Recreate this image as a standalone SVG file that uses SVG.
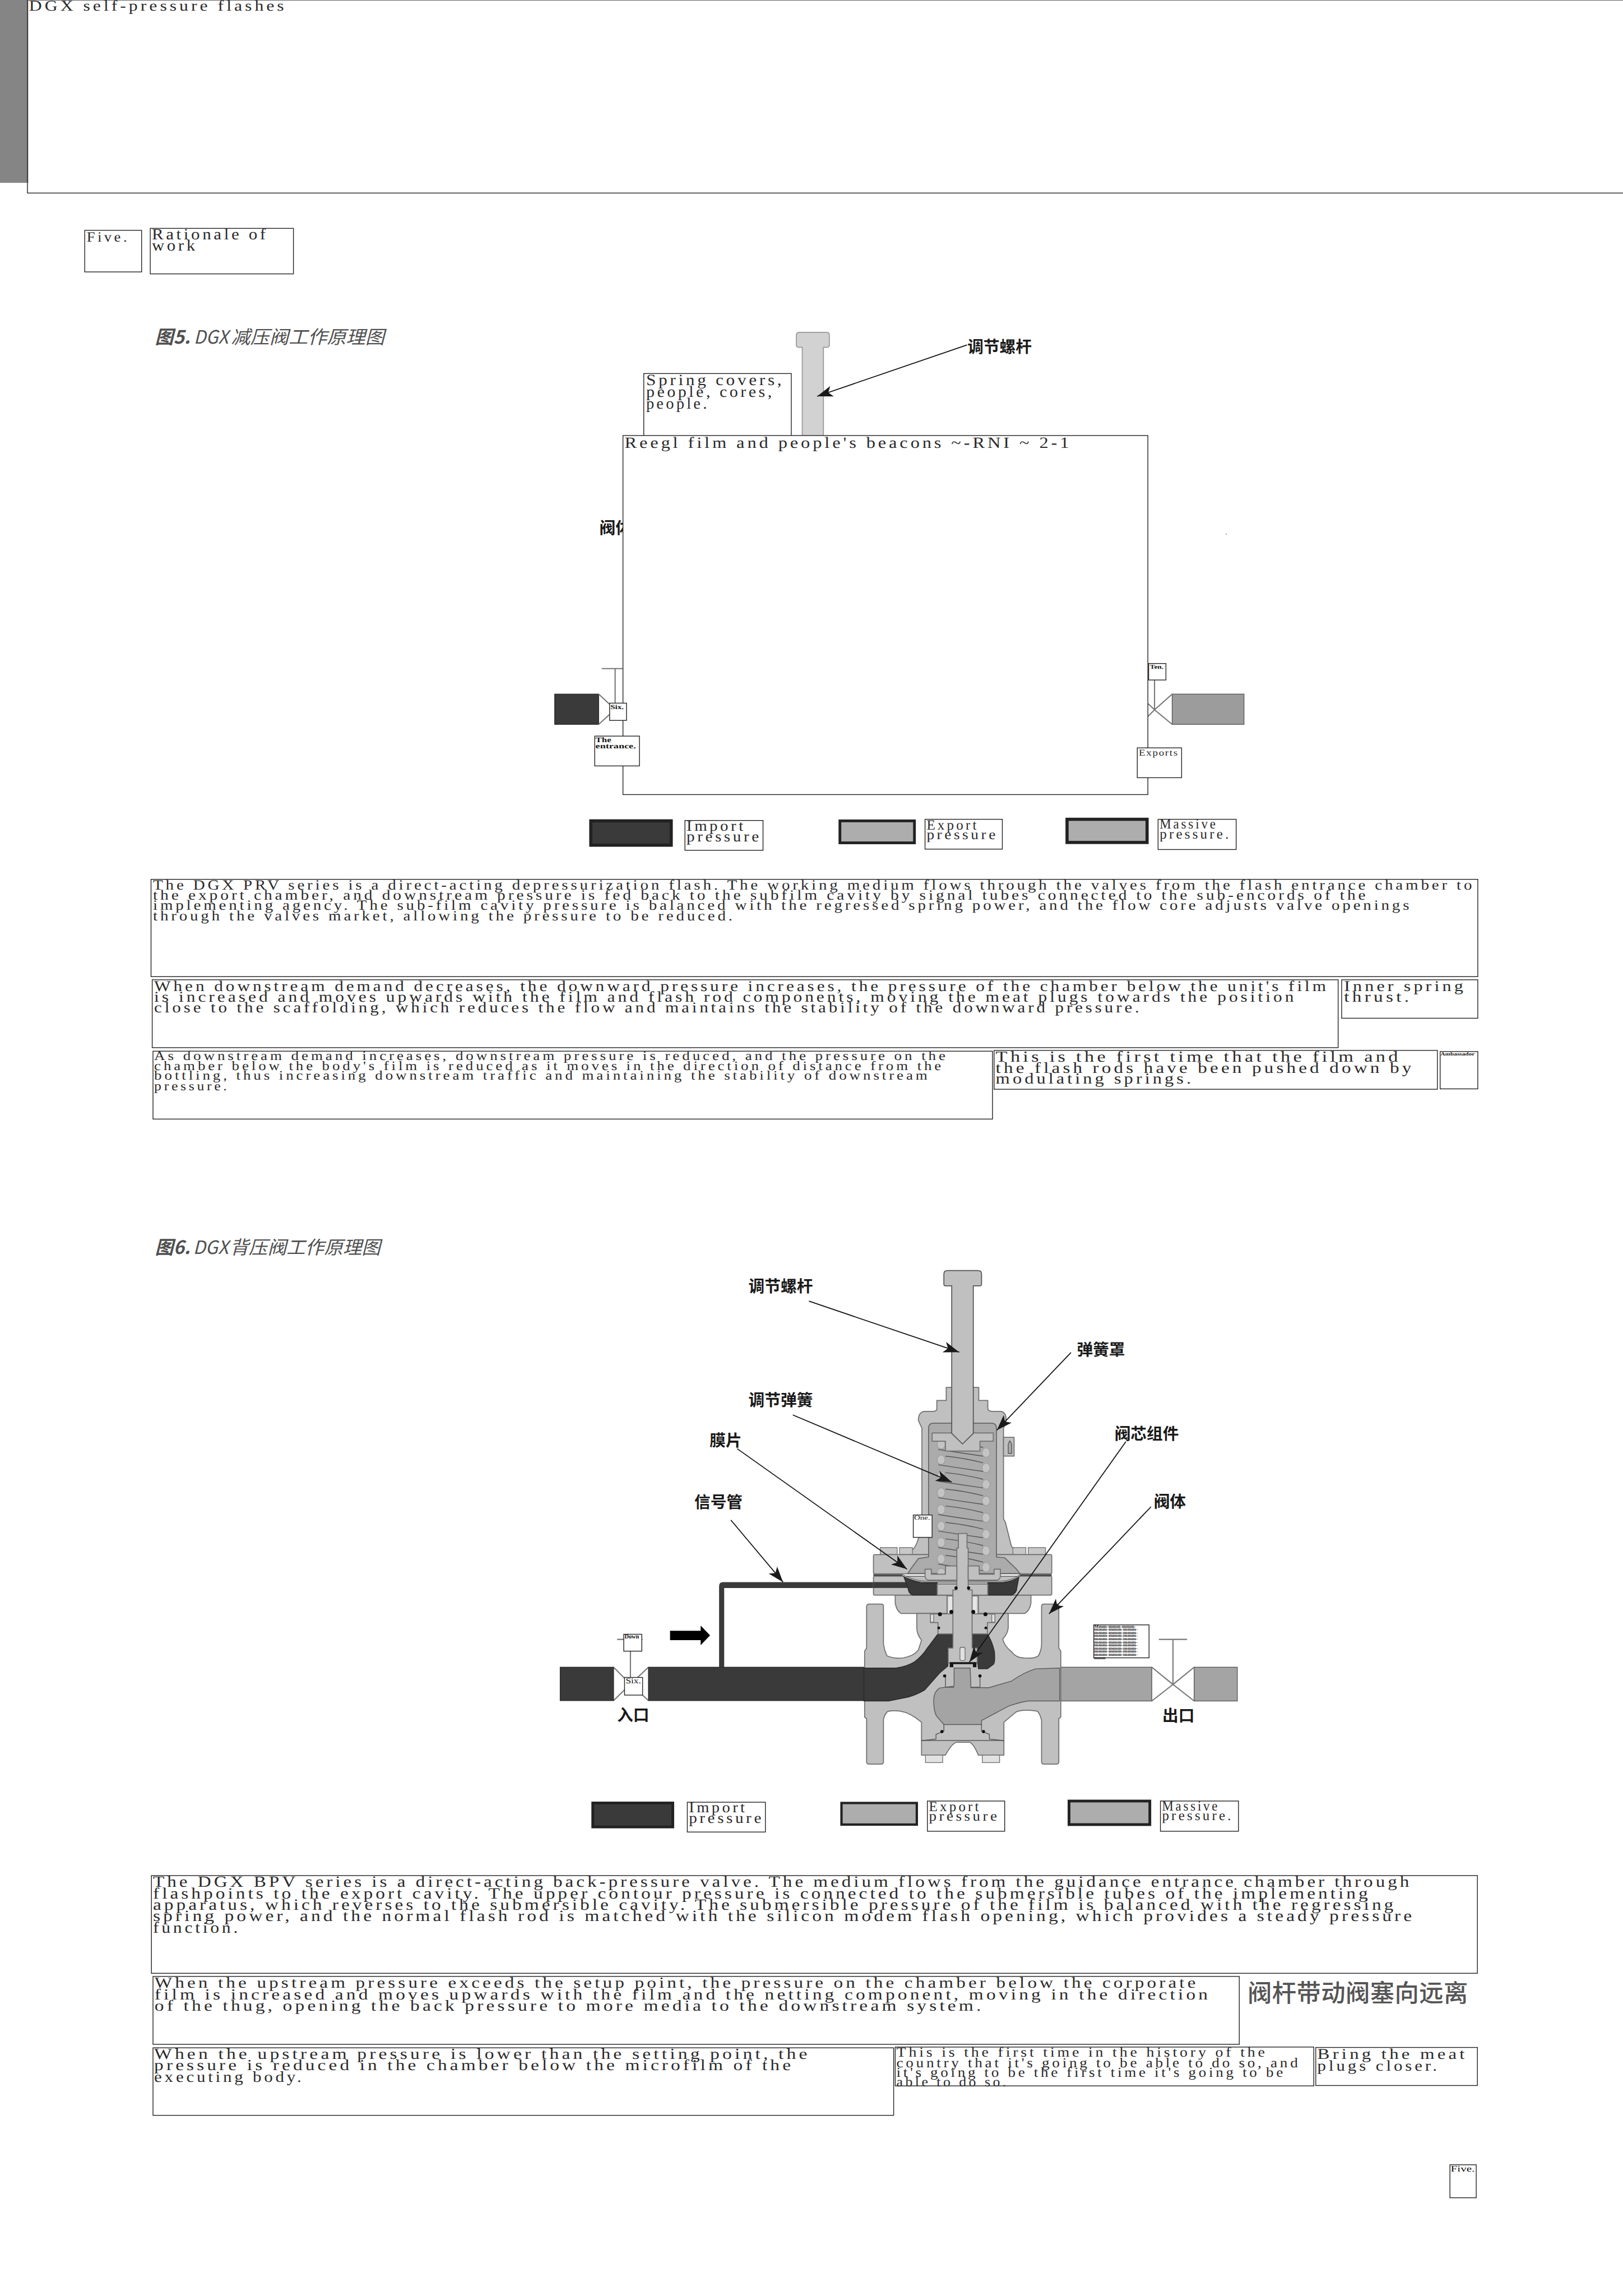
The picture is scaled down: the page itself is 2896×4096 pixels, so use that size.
<svg xmlns="http://www.w3.org/2000/svg" xmlns:xlink="http://www.w3.org/1999/xlink" width="2896" height="4096" viewBox="0 0 2896 4096">
<style>
.bx{fill:#fff;stroke:#222;stroke-width:2}
.t{font-family:"Liberation Serif","Noto Sans CJK SC",serif;fill:#2a2a2a;font-size:36px;letter-spacing:6px;text-rendering:geometricPrecision}
.tb{font-family:"Liberation Serif",serif;fill:#111;font-weight:700;text-rendering:geometricPrecision}
.lb{font-family:"Noto Sans CJK SC","Liberation Sans",sans-serif;font-weight:700;fill:#1a1a1a;font-size:41px}
.tt{font-family:"Noto Sans CJK SC","Open Sans",sans-serif;font-style:italic;fill:#505050;font-size:47px}
.lite{fill:#c0c0c0;stroke:#707070;stroke-width:2.5;stroke-linejoin:round}
.dark{fill:#3a3a3a;stroke:#2a2a2a;stroke-width:2}
.out{fill:#a4a4a4;stroke:#5a5a5a;stroke-width:2}
.cav{fill:#ababab;stroke:#666;stroke-width:2.5}
.bolt{fill:#e2e2e2;stroke:#777;stroke-width:2}
.pipe{stroke:#777;stroke-width:3;fill:none}
.coil{fill:none;stroke:#555;stroke-width:2}
.ball{fill:#c4c4c4;stroke:#999;stroke-width:1.5}
.ring{fill:#111}
.lead{fill:none;stroke:#111;stroke-width:2.5;marker-end:url(#dart)}
</style>
<defs>
<marker id="dart" markerUnits="userSpaceOnUse" markerWidth="50" markerHeight="34" refX="42" refY="16" orient="auto">
<path d="M42,16 L2,2 L12,16 L2,30 Z" fill="#1a1a1a"/>
</marker>
<g id="coilturn">
<path class="coil" d="M2410,-9 Q2460,-4 2506,8"/>
<path class="coil" d="M2392,13 Q2450,22 2506,30"/>
<ellipse class="ball" cx="2399" cy="0" rx="10" ry="12"/>
<ellipse class="ball" cx="2513.5" cy="21" rx="10" ry="12"/>
</g>
</defs>
<rect width="2896" height="4096" fill="#fff"/>
<g transform="scale(0.7)">

<g id="header-bar"><rect x="0" y="0" width="72" height="466" fill="#858585"/></g>
<g id="header"><rect class="bx" x="70" y="0" width="4070" height="492" style="fill:none"/>
<text class="t" lengthAdjust="spacingAndGlyphs" x="74" y="27" style="font-size:38px" textLength="657">DGX self-pressure flashes</text></g>

<g id="sec-num"><rect class="bx" x="216" y="587" width="145" height="106"/><text class="t" lengthAdjust="spacingAndGlyphs" x="221" y="615" textLength="109">Five.</text></g>
<g id="sec-title"><rect class="bx" x="383" y="582" width="365" height="116"/>
<text class="t" lengthAdjust="spacingAndGlyphs" style="font-size:40px" x="387" y="610" textLength="297">Rationale of</text>
<text class="t" lengthAdjust="spacingAndGlyphs" style="font-size:40px" x="387" y="638" textLength="117">work</text></g>

<g id="fig5-title"><text class="tt" x="395" y="875"><tspan font-weight="700">图5.</tspan></text>
<text class="tt" x="494" y="875" textLength="88" lengthAdjust="spacingAndGlyphs">DGX</text>
<text class="tt" x="589" y="875" textLength="391" lengthAdjust="spacingAndGlyphs">减压阀工作原理图</text></g>

<g id="fig5-art">
<path d="M2038,847 L2106,847 Q2114,847 2114,853 L2114,880 Q2114,885 2108,885 L2099,885 L2099,1115 L2045,1115 L2045,885 L2036,885 Q2030,885 2030,880 L2030,853 Q2030,847 2038,847 Z" fill="#d2d2d2" stroke="#999" stroke-width="2.5"/>
<rect class="dark" x="1414" y="1769" width="112" height="77"/>
<rect class="out" style="fill:#9c9c9c" x="2988" y="1769" width="183" height="77"/>
<path class="pipe" d="M1526,1769 L1568,1808 L1526,1846"/>
<path class="pipe" d="M1534,1704 L1590,1704 M1568,1704 L1568,1808"/>
<path class="pipe" d="M2988,1769 L2943,1809 L2988,1846 M2926,1793 L2943,1809 L2926,1826 M2943,1733 L2943,1809"/>
<circle cx="3126" cy="1361" r="1.5" fill="#888"/>
</g>
<g id="fig5-valve-body-label"><text class="lb" x="1528" y="1360">阀体</text></g>

<g id="fig5-spring"><rect class="bx" x="1641" y="952" width="376" height="160"/>
<text class="t" lengthAdjust="spacingAndGlyphs" style="font-size:40px" x="1647" y="981" textLength="352">Spring covers,</text>
<text class="t" lengthAdjust="spacingAndGlyphs" style="font-size:40px" x="1647" y="1011" textLength="327">people, cores,</text>
<text class="t" lengthAdjust="spacingAndGlyphs" style="font-size:40px" x="1647" y="1041" textLength="161">people.</text></g>
<g id="fig5-box"><rect class="bx" x="1588" y="1110" width="1338" height="915"/>
<text class="t" lengthAdjust="spacingAndGlyphs" style="font-size:40px" x="1592" y="1141" textLength="1140">Reegl film and people's beacons ~-RNI ~ 2-1</text></g>
<g id="fig5-six"><rect class="bx" x="1554" y="1792" width="43" height="44"/><text class="tb" lengthAdjust="spacingAndGlyphs" style="font-size:16px" x="1556" y="1807" textLength="34">Six.</text></g>
<g id="fig5-entrance"><rect class="bx" x="1516" y="1876" width="114" height="76"/><text class="tb" lengthAdjust="spacingAndGlyphs" style="font-size:18px" x="1518" y="1892" textLength="40">The</text><text class="tb" lengthAdjust="spacingAndGlyphs" style="font-size:18px" x="1518" y="1907" textLength="103">entrance.</text></g>
<g id="fig5-ten"><rect class="bx" x="2928" y="1691" width="44" height="42"/><text class="tb" lengthAdjust="spacingAndGlyphs" style="font-size:15px" x="2931" y="1704" textLength="35">Ten.</text></g>
<g id="fig5-exports"><rect class="bx" x="2899" y="1906" width="113" height="76"/><text class="t" lengthAdjust="spacingAndGlyphs" style="font-size:23px;letter-spacing:2px" x="2903" y="1925" textLength="101">Exports</text></g>

<g id="fig5-legend-in"><rect x="1506" y="2092" width="205" height="62" fill="#3a3a3a" stroke="#222" stroke-width="8"/></g>
<g id="fig5-legend-in-t"><rect class="bx" x="1746" y="2091" width="199" height="76"/><text class="t" lengthAdjust="spacingAndGlyphs" style="font-size:38px" x="1750" y="2117" textLength="151">Import</text><text class="t" lengthAdjust="spacingAndGlyphs" style="font-size:38px" x="1750" y="2144" textLength="191">pressure</text></g>
<g id="fig5-legend-out"><rect x="2141" y="2092" width="190" height="56" fill="#adadad" stroke="#222" stroke-width="7"/></g>
<g id="fig5-legend-out-t"><rect class="bx" x="2358" y="2088" width="197" height="76"/><text class="t" lengthAdjust="spacingAndGlyphs" x="2362" y="2114" textLength="133">Export</text><text class="t" lengthAdjust="spacingAndGlyphs" x="2362" y="2139" textLength="182">pressure</text></g>
<g id="fig5-legend-mass"><rect x="2720" y="2088" width="204" height="59" fill="#adadad" stroke="#222" stroke-width="8"/></g>
<g id="fig5-legend-mass-t"><rect class="bx" x="2952" y="2088" width="199" height="77"/><text class="t" lengthAdjust="spacingAndGlyphs" x="2956" y="2112" textLength="148">Massive</text><text class="t" lengthAdjust="spacingAndGlyphs" x="2956" y="2137" textLength="182">pressure.</text></g>

<g id="p1"><rect class="bx" x="385" y="2241" width="3382" height="248"/>
<text class="t" lengthAdjust="spacingAndGlyphs" x="390" y="2267" textLength="3369">The DGX PRV series is a direct-acting depressurization flash. The working medium flows through the valves from the flash entrance chamber to</text>
<text class="t" lengthAdjust="spacingAndGlyphs" x="390" y="2293" textLength="3098">the export chamber, and downstream pressure is fed back to the subfilm cavity by signal tubes connected to the sub-encords of the</text>
<text class="t" lengthAdjust="spacingAndGlyphs" x="390" y="2319" textLength="3209">implementing agency. The sub-film cavity pressure is balanced with the regressed spring power, and the flow core adjusts valve openings</text>
<text class="t" lengthAdjust="spacingAndGlyphs" x="390" y="2345" textLength="1484">through the valves market, allowing the pressure to be reduced.</text></g>
<g id="p2"><rect class="bx" x="388" y="2497" width="3023" height="173"/>
<text class="t" lengthAdjust="spacingAndGlyphs" style="font-size:38px" x="393" y="2525" textLength="2994">When downstream demand decreases, the downward pressure increases, the pressure of the chamber below the unit's film</text>
<text class="t" lengthAdjust="spacingAndGlyphs" style="font-size:38px" x="393" y="2553" textLength="2912">is increased and moves upwards with the film and flash rod components, moving the meat plugs towards the position</text>
<text class="t" lengthAdjust="spacingAndGlyphs" style="font-size:38px" x="393" y="2580" textLength="2518">close to the scaffolding, which reduces the flow and maintains the stability of the downward pressure.</text></g>
<g id="p2b"><rect class="bx" x="3420" y="2497" width="347" height="98"/>
<text class="t" lengthAdjust="spacingAndGlyphs" style="font-size:38px" x="3426" y="2525" textLength="311">Inner spring</text>
<text class="t" lengthAdjust="spacingAndGlyphs" style="font-size:38px" x="3426" y="2553" textLength="173">thrust.</text></g>
<g id="p3"><rect class="bx" x="390" y="2679" width="2140" height="173"/>
<text class="t" lengthAdjust="spacingAndGlyphs" style="font-size:33px" x="393" y="2702" textLength="2024">As downstream demand increases, downstream pressure is reduced, and the pressure on the</text>
<text class="t" lengthAdjust="spacingAndGlyphs" style="font-size:33px" x="393" y="2727" textLength="2013">chamber below the body's film is reduced as it moves in the direction of distance from the</text>
<text class="t" lengthAdjust="spacingAndGlyphs" style="font-size:33px" x="393" y="2752" textLength="1978">bottling, thus increasing downstream traffic and maintaining the stability of downstream</text>
<text class="t" lengthAdjust="spacingAndGlyphs" style="font-size:33px" x="393" y="2778" textLength="192">pressure.</text></g>
<g id="p3b"><rect class="bx" x="2534" y="2677" width="1130" height="99"/>
<text class="t" lengthAdjust="spacingAndGlyphs" style="font-size:39px" x="2538" y="2706" textLength="1033">This is the first time that the film and</text>
<text class="t" lengthAdjust="spacingAndGlyphs" style="font-size:39px" x="2538" y="2734" textLength="1067">the flash rods have been pushed down by</text>
<text class="t" lengthAdjust="spacingAndGlyphs" style="font-size:39px" x="2538" y="2762" textLength="505">modulating springs.</text></g>
<g id="p3c"><rect class="bx" x="3671" y="2680" width="96" height="95"/>
<text class="tb" lengthAdjust="spacingAndGlyphs" style="font-size:12px" x="3672" y="2690" textLength="87">Ambassador</text></g>

<g id="fig6-title"><text class="tt" x="395" y="3196"><tspan font-weight="700">图6.</tspan></text>
<text class="tt" x="492" y="3196" textLength="90" lengthAdjust="spacingAndGlyphs">DGX</text>
<text class="tt" x="586" y="3196" textLength="384" lengthAdjust="spacingAndGlyphs">背压阀工作原理图</text></g>

<g id="fig6-valve">
<path class="pipe" d="M1564,4249 L1607,4292 L1564,4334 M1653,4249 L1607,4292 L1653,4334 M1607,4178 L1607,4292 M1573,4178 L1638,4178"/>
<path class="pipe" d="M2936,4249 L2990,4293 L2936,4335 M3044,4249 L2990,4293 L3044,4335 M2990,4178 L2990,4293 M2954,4178 L3026,4178"/>
<rect class="dark" x="1428" y="4249" width="136" height="85"/>
<rect class="dark" x="1653" y="4249" width="550" height="85"/>
<rect class="out" x="2701" y="4249" width="235" height="86"/>
<rect class="out" x="3044" y="4249" width="110" height="86"/>
<path d="M1833,4249 L1833,4042 Q1833,4032 1843,4032 L2320,4032 L2320,4047 L1846,4047 L1846,4249 Z" fill="#3a3a3a"/>
<path class="lite" d="M2412,3569 L2412,3536 L2495,3536 L2495,3569 L2518,3569 L2518,3590 Q2520,3597 2530,3597 L2552,3597 Q2565,3600 2565,3620 L2558,3640 L2558,3871 L2563,3880 L2578,3940 Q2585,3952 2596,3962 L2313,3962 Q2340,3945 2345,3900 L2350,3871 L2350,3640 L2341,3620 Q2341,3600 2355,3597 L2378,3597 Q2388,3597 2388,3590 L2388,3569 Z"/>
<rect class="bolt" style="fill:#c8c8c8" x="2244" y="3944" width="43" height="18"/>
<rect class="bolt" style="fill:#c8c8c8" x="2293" y="3944" width="33" height="18"/>
<rect class="bolt" style="fill:#c8c8c8" x="2582" y="3944" width="33" height="18"/>
<rect class="bolt" style="fill:#c8c8c8" x="2621" y="3944" width="44" height="18"/>
<rect class="lite" x="2558" y="3663" width="27" height="48"/>
<path d="M2570,3704 L2570,3680 L2574,3672 L2579,3680 L2579,3704 Z" fill="#a8a8a8" stroke="#555" stroke-width="2"/>
<rect class="lite" x="2226.5" y="3962" width="454.5" height="49" rx="3"/>
<path class="cav" d="M2367,3640 Q2367,3627 2380,3627 L2527,3627 Q2540,3627 2540,3640 L2540,3968 L2561,3970 L2590,3998 L2600,4010 L2314,4010 L2322,3998 L2341,3972 L2367,3968 Z"/>
<use xlink:href="#coilturn" href="#coilturn" y="3681"/>
<use xlink:href="#coilturn" href="#coilturn" y="3720"/>
<use xlink:href="#coilturn" href="#coilturn" y="3762"/>
<use xlink:href="#coilturn" href="#coilturn" y="3804"/>
<use xlink:href="#coilturn" href="#coilturn" y="3847"/>
<use xlink:href="#coilturn" href="#coilturn" y="3889"/>
<use xlink:href="#coilturn" href="#coilturn" y="3931"/>
<use xlink:href="#coilturn" href="#coilturn" y="3973"/>
<ellipse class="ball" cx="2399" cy="4006" rx="10" ry="9"/>
<path class="lite" d="M2376,3652 L2532,3652 L2532,3673 L2498,3673 L2498,3698 L2410,3698 L2410,3673 L2376,3673 Z"/>
<path class="lite" style="stroke:#555" d="M2416,3238 Q2406,3238 2406,3246 L2406,3272 Q2406,3277 2410,3277 L2426,3277 L2426,3653 L2453.5,3680 L2481,3653 L2481,3277 L2497,3277 Q2502,3277 2502,3272 L2502,3246 Q2502,3238 2492,3238 Z"/>
<path class="lite" d="M2282,4065 L2628,4065 L2628,4085 Q2625,4105 2612,4112 L2297,4112 Q2285,4105 2282,4085 Z"/>
<rect class="lite" x="2226.5" y="4017" width="454.5" height="48" rx="3"/>
<rect x="2226" y="4032" width="96" height="15" fill="#3a3a3a"/>
<path class="dark" d="M2303,4016 Q2325,4030 2349,4034 L2389,4034 L2389,4065 L2326,4065 Q2315,4060 2314.6,4047 Z"/>
<path class="dark" d="M2598,4016 Q2580,4030 2556,4034 L2518,4034 L2518,4065 L2578.6,4065 Q2592,4060 2592,4047 Z"/>
<path d="M2226,4014 L2300,4014 Q2330,4030 2360,4031 L2550,4031 Q2580,4030 2600,4014 L2681,4014" fill="none" stroke="#444" stroke-width="4"/>
<path d="M2300,4014 Q2330,4030 2360,4031 L2550,4031 Q2580,4030 2600,4014" fill="none" stroke="#ddd" stroke-width="1.5"/>
<path class="lite" d="M2389,4037 L2518,4037 L2518,4065 L2389,4065 Z"/>
<path class="lite" d="M2216,4088 L2246,4088 Q2252,4088 2252,4094 L2252,4190 Q2254,4205 2261,4220 Q2280,4228 2303,4225 Q2330,4220 2341,4205 L2349,4180 Q2337,4165 2337,4149 L2337,4112 L2570,4112 L2570,4149 Q2568,4165 2556,4177 Q2560,4195 2579,4210 Q2590,4225 2609,4225 Q2635,4228 2647,4220 Q2655,4205 2655,4190 L2655,4094 Q2655,4088 2661,4088 L2692,4088 Q2699,4088 2699,4095 L2699,4200 L2704,4208 L2704,4376 L2699,4380 L2699,4490 Q2699,4496 2692,4496 L2661,4496 Q2655,4496 2655,4490 L2655,4384 Q2650,4365 2644,4361 Q2610,4355 2590,4363 L2559,4389 L2559,4436 L2349,4436 L2349,4389 Q2320,4365 2295,4361 Q2270,4358 2261,4363 Q2252,4375 2252,4384 L2252,4490 Q2252,4496 2246,4496 L2216,4496 Q2209,4496 2209,4490 L2209,4380 L2204,4376 L2204,4208 L2209,4200 L2209,4095 Q2209,4088 2216,4088 Z"/>
<path class="dark" d="M2202,4251 L2284,4251 Q2310,4248 2330,4236 Q2350,4222 2364,4200 L2391,4164 L2429,4164 L2429,4197 L2416,4202 L2416,4246 L2395,4264 L2357,4307 Q2335,4320 2315,4325 L2265,4335 L2202,4335 Z"/>
<path class="dark" d="M2477,4164 L2517,4164 Q2530,4185 2535,4210 Q2537,4235 2533,4241 L2517,4253 L2494,4253 L2491,4225 L2477,4197 Z"/>
<path class="out" d="M2701,4251 L2640,4253 Q2610,4262 2579,4284 L2521,4301 L2475,4301 L2473,4251 L2432,4251 L2432,4297 L2395,4302 Q2380,4312 2380,4333 Q2380,4360 2387,4373 L2406,4395 L2502,4395 L2502,4385 L2571,4348 Q2600,4338 2621,4335 L2701,4335 Z"/>
<path class="lite" d="M2349,4436 L2559,4436 L2559,4473 L2494,4473 Q2480,4440 2470,4440 L2438,4440 Q2425,4445 2410,4473 L2349,4473 Z"/>
<path class="coil" d="M2406,4395 L2406,4412 L2386,4420 L2386,4432 L2349,4436 M2502,4395 L2502,4412 L2522,4420 L2522,4432 L2559,4436"/>
<circle class="ring" cx="2401" cy="4413" r="4"/><circle class="ring" cx="2507" cy="4413" r="4"/>
<rect class="bolt" x="2359" y="4473" width="44" height="19"/>
<rect class="bolt" x="2504" y="4473" width="44" height="19"/>
<rect class="lite" x="2414" y="4067" width="80" height="46"/>
<rect x="2417" y="4069" width="12" height="44" fill="#e6e6e6"/><rect x="2478" y="4069" width="12" height="44" fill="#e6e6e6"/>
<path class="lite" d="M2372,4113 L2536,4113 L2536,4135 L2517,4135 L2517,4164 L2391,4164 L2391,4135 L2372,4135 Z"/>
<rect class="bolt" x="2372" y="4114" width="8" height="20"/><rect class="bolt" x="2528" y="4114" width="8" height="20"/>
<path class="lite" d="M2443,3908 L2465,3908 L2465,3945 L2468,3945 L2468,4052 L2478,4052 L2478,4200 L2491,4200 L2491,4238 L2417,4238 L2417,4200 L2429,4200 L2429,4052 L2439,4052 L2439,3945 L2443,3945 Z"/>
<path class="lite" d="M2358,3999 L2374,3999 L2374,4012 L2410,4012 L2410,3991 L2439,3991 L2439,4027 L2368,4027 Q2360,4027 2358,4018 Z"/>
<path class="lite" d="M2550,3999 L2534,3999 L2534,4012 L2496,4012 L2496,3991 L2468,3991 L2468,4027 L2540,4027 Q2548,4027 2550,4018 Z"/>
<rect x="2447" y="4198" width="13" height="34" rx="4" fill="#e0e0e0" stroke="#555" stroke-width="1.5"/>
<path d="M2421,4236 L2489,4236 L2489,4249 L2480,4249 L2480,4241 L2430,4241 L2430,4249 L2421,4249 Z" fill="#151515"/>
<path class="coil" d="M2410,4270 L2410,4300 L2432,4300 M2498,4270 L2498,4300 L2475,4300"/>
<circle class="ring" cx="2396" cy="4114" r="5"/><circle class="ring" cx="2512" cy="4114" r="5"/>
<circle class="ring" cx="2425" cy="4108" r="5"/><circle class="ring" cx="2481" cy="4108" r="5"/>
<circle class="ring" cx="2393" cy="4149" r="3.5"/><circle class="ring" cx="2513" cy="4149" r="3.5"/>
<circle class="ring" cx="2437" cy="4047" r="4"/><circle class="ring" cx="2469" cy="4047" r="4"/>
<circle class="ring" cx="2408" cy="4271" r="4"/><circle class="ring" cx="2498" cy="4271" r="4"/>
<path d="M1708,4156 L1786,4156 L1786,4143 L1810,4168 L1786,4193 L1786,4180 L1708,4180 Z" fill="#000"/>
</g>

<g id="fig6-boxes">
<g id="fig6-one"><rect class="bx" x="2328" y="3861" width="48" height="57"/><text class="tb" lengthAdjust="spacingAndGlyphs" style="font-size:16px;font-weight:400" x="2330" y="3873" textLength="41">One.</text></g>
<g id="fig6-down"><rect class="bx" x="1590" y="4165" width="46" height="43"/><text class="tb" lengthAdjust="spacingAndGlyphs" style="font-size:16px" x="1592" y="4176" textLength="37">Down</text></g>
<g id="fig6-six"><rect class="bx" x="1592" y="4275" width="46" height="45"/><text class="tb" lengthAdjust="spacingAndGlyphs" style="font-size:20px;font-weight:400" x="1595" y="4290" textLength="39">Six.</text></g>
<g id="fig6-mmm"><rect class="bx" x="2788" y="4141" width="141" height="84"/>
<g class="tb" style="font-size:11px">
<text lengthAdjust="spacingAndGlyphs" x="2789" y="4148" textLength="106">Mmm-mmm-mmm-</text>
<text lengthAdjust="spacingAndGlyphs" x="2789" y="4156" textLength="111">mmm-mmm-mmm-</text>
<text lengthAdjust="spacingAndGlyphs" x="2789" y="4164" textLength="111">mmm-mmm-mmm-</text>
<text lengthAdjust="spacingAndGlyphs" x="2789" y="4172" textLength="111">mmm-mmm-mmm-</text>
<text lengthAdjust="spacingAndGlyphs" x="2789" y="4180" textLength="111">mmm-mmm-mmm-</text>
<text lengthAdjust="spacingAndGlyphs" x="2789" y="4188" textLength="111">mmm-mmm-mmm-</text>
<text lengthAdjust="spacingAndGlyphs" x="2789" y="4196" textLength="111">mmm-mmm-mmm-</text>
<text lengthAdjust="spacingAndGlyphs" x="2789" y="4204" textLength="111">mmm-mmm-mmm-</text>
<text lengthAdjust="spacingAndGlyphs" x="2789" y="4212" textLength="111">mmm-mmm-mmm-</text>
<text lengthAdjust="spacingAndGlyphs" x="2789" y="4220" textLength="111">mmm-mmm-mmm-</text>
<text lengthAdjust="spacingAndGlyphs" x="2789" y="4228" textLength="29">mmm</text>
</g></g>
</g>

<g id="fig6-labels">
<text class="lb" x="1908" y="3293">调节螺杆</text>
<text class="lb" x="2745" y="3454">弹簧罩</text>
<text class="lb" x="1908" y="3583">调节弹簧</text>
<text class="lb" x="1809" y="3685">膜片</text>
<text class="lb" x="1770" y="3843">信号管</text>
<text class="lb" x="2841" y="3669">阀芯组件</text>
<text class="lb" x="2941" y="3842">阀体</text>
<text class="lb" x="1573" y="4386">入口</text>
<text class="lb" x="2963" y="4387">出口</text>
</g>

<g id="fig6-legend-in"><rect x="1511" y="4595" width="204" height="61" fill="#3a3a3a" stroke="#222" stroke-width="7"/></g>
<g id="fig6-legend-in-t"><rect class="bx" x="1752" y="4593" width="199" height="76"/><text class="t" lengthAdjust="spacingAndGlyphs" style="font-size:38px" x="1756" y="4619" textLength="149">Import</text><text class="t" lengthAdjust="spacingAndGlyphs" style="font-size:38px" x="1756" y="4645" textLength="191">pressure</text></g>
<g id="fig6-legend-out"><rect x="2145" y="4595" width="192" height="55" fill="#adadad" stroke="#222" stroke-width="6"/></g>
<g id="fig6-legend-out-t"><rect class="bx" x="2364" y="4590" width="197" height="77"/><text class="t" lengthAdjust="spacingAndGlyphs" x="2368" y="4615" textLength="133">Export</text><text class="t" lengthAdjust="spacingAndGlyphs" x="2368" y="4640" textLength="180">pressure</text></g>
<g id="fig6-legend-mass"><rect x="2725" y="4590" width="206" height="60" fill="#adadad" stroke="#222" stroke-width="7"/></g>
<g id="fig6-legend-mass-t"><rect class="bx" x="2958" y="4590" width="199" height="77"/><text class="t" lengthAdjust="spacingAndGlyphs" x="2962" y="4614" textLength="147">Massive</text><text class="t" lengthAdjust="spacingAndGlyphs" x="2962" y="4638" textLength="182">pressure.</text></g>

<g id="p4"><rect class="bx" x="386" y="4780" width="3380" height="249"/>
<text class="t" lengthAdjust="spacingAndGlyphs" style="font-size:40px" x="390" y="4809" textLength="3209">The DGX BPV series is a direct-acting back-pressure valve. The medium flows from the guidance entrance chamber through</text>
<text class="t" lengthAdjust="spacingAndGlyphs" style="font-size:40px" x="390" y="4838" textLength="3104">flashpoints to the export cavity. The upper contour pressure is connected to the submersible tubes of the implementing</text>
<text class="t" lengthAdjust="spacingAndGlyphs" style="font-size:40px" x="390" y="4867" textLength="3169">apparatus, which reverses to the submersible cavity. The submersible pressure of the film is balanced with the regressing</text>
<text class="t" lengthAdjust="spacingAndGlyphs" style="font-size:40px" x="390" y="4896" textLength="3216">spring power, and the normal flash rod is matched with the silicon modem flash opening, which provides a steady pressure</text>
<text class="t" lengthAdjust="spacingAndGlyphs" style="font-size:40px" x="390" y="4925" textLength="223">function.</text></g>
<g id="p5"><rect class="bx" x="390" y="5037" width="2769" height="173"/>
<text class="t" lengthAdjust="spacingAndGlyphs" style="font-size:39px" x="394" y="5066" textLength="2661">When the upstream pressure exceeds the setup point, the pressure on the chamber below the corporate</text>
<text class="t" lengthAdjust="spacingAndGlyphs" style="font-size:39px" x="394" y="5095" textLength="2692">film is increased and moves upwards with the film and the netting component, moving in the direction</text>
<text class="t" lengthAdjust="spacingAndGlyphs" style="font-size:39px" x="394" y="5124" textLength="2114">of the thug, opening the back pressure to more media to the downstream system.</text></g>
<g id="p5b"><text x="3180" y="5102" font-family="Noto Sans CJK SC, sans-serif" font-size="62" font-weight="500" fill="#555" textLength="562">阀杆带动阀塞向远离</text></g>
<g id="p6"><rect class="bx" x="390" y="5219" width="1888" height="172"/>
<text class="t" lengthAdjust="spacingAndGlyphs" style="font-size:39px" x="393" y="5247" textLength="1672">When the upstream pressure is lower than the setting point, the</text>
<text class="t" lengthAdjust="spacingAndGlyphs" style="font-size:39px" x="393" y="5276" textLength="1630">pressure is reduced in the chamber below the microfilm of the</text>
<text class="t" lengthAdjust="spacingAndGlyphs" style="font-size:39px" x="393" y="5305" textLength="382">executing body.</text></g>
<g id="p6b"><rect class="bx" x="2282" y="5217" width="1067" height="99"/>
<text class="t" lengthAdjust="spacingAndGlyphs" style="font-size:35px" x="2285" y="5242" textLength="946">This is the first time in the history of the</text>
<text class="t" lengthAdjust="spacingAndGlyphs" style="font-size:35px" x="2285" y="5268" textLength="1030">country that it's going to be able to do so, and</text>
<text class="t" lengthAdjust="spacingAndGlyphs" style="font-size:35px" x="2285" y="5293" textLength="992">it's going to be the first time it's going to be</text>
<text class="t" lengthAdjust="spacingAndGlyphs" style="font-size:35px" x="2285" y="5317" textLength="286">able to do so.</text></g>
<g id="p6c"><rect class="bx" x="3354" y="5218" width="412" height="97"/>
<text class="t" lengthAdjust="spacingAndGlyphs" style="font-size:38px" x="3358" y="5247" textLength="383">Bring the meat</text>
<text class="t" lengthAdjust="spacingAndGlyphs" style="font-size:38px" x="3358" y="5277" textLength="312">plugs closer.</text></g>
<g id="page-num"><rect class="bx" x="3696" y="5517" width="67" height="84"/><text class="tb" lengthAdjust="spacingAndGlyphs" style="font-size:22px;font-weight:400" x="3698" y="5534" textLength="61">Five.</text></g>

<g id="fig5-labels"><text class="lb" x="2466" y="899">调节螺杆</text></g>

<g id="connectors">
<path class="lead" d="M2465,879 L2083,1010"/>
<path class="lead" d="M2062,3316 L2445,3446"/>
<path class="lead" d="M2730,3447 L2541,3645"/>
<path class="lead" d="M2021,3606 L2426,3777"/>
<path class="lead" d="M1879,3692 L2312,3999"/>
<path class="lead" d="M1863,3874 L1996,4032"/>
<path class="lead" d="M2870,3674 L2471,4236"/>
<path class="lead" d="M2934,3840 L2674,4113"/>
</g>
</g>
</svg>
